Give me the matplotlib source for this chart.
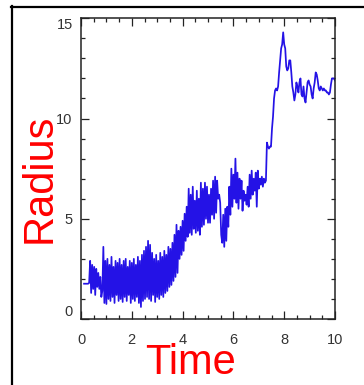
import numpy as np
import matplotlib
matplotlib.use("Agg")
import matplotlib.pyplot as plt
from matplotlib.lines import Line2D
from matplotlib.ticker import MultipleLocator, FixedLocator

# ---- data ----
# segment 1: initial flat part
seg1_t = (0.12, 0.32)
seg1_r = [1.76, 1.76, 1.76, 1.76, 1.76, 1.8]

# segment 2: noisy low band
seg2_t = (0.36, 3.56)
seg2_r = [2.9, 1.3, 2.7, 1.5, 2.6, 1.2, 2.5, 1.6, 2.3, 1.5,
          2.1, 1.1, 1.4, 3.6, 0.8, 2.9, 0.75, 3.0, 1.0, 2.7,
          0.9, 3.1, 1.1, 2.6, 0.8, 2.9, 1.2, 2.8, 0.9, 3.0,
          1.0, 2.7, 0.85, 2.9, 1.1, 3.0, 0.9, 2.6, 1.2, 2.9,
          0.8, 2.8, 1.0, 3.0, 0.9, 2.7, 1.1, 3.1, 0.8, 2.9,
          0.6, 3.2, 0.9, 3.4, 1.0, 3.6, 1.1, 3.9, 1.0, 3.7,
          0.9, 3.3, 1.2, 3.0, 0.85, 3.2, 1.1, 2.9, 1.0, 3.3,
          1.2, 3.1, 1.1, 3.4, 1.3, 3.2, 1.4, 3.6, 1.6, 3.5,
          1.7]

# segment 3: noisy rising band
seg3_t = (3.60, 7.28)
seg3_r = [3.8, 1.9, 4.2, 2.1, 4.7, 2.3, 4.4, 3.0, 4.6, 3.2,
          4.9, 3.4, 5.25, 3.9, 5.6, 4.1, 6.5, 4.3, 6.2, 4.2,
          6.6, 4.5, 5.9, 4.3, 6.4, 4.4, 6.0, 4.2, 6.8, 4.6,
          6.5, 4.7, 6.8, 5.0, 6.6, 4.8, 6.2, 4.8, 6.5, 5.2,
          6.9, 5.0, 7.1, 5.3, 6.9, 6.0, 6.2, 5.8, 4.2, 3.8,
          5.2, 3.6, 5.5, 3.9, 5.6, 4.6, 6.6, 5.2, 7.5, 5.6,
          7.2, 6.0, 8.0, 5.8, 7.3, 5.5, 7.0, 6.0, 6.9, 5.4,
          6.4, 5.9, 6.2, 5.7, 6.6, 5.6, 7.2, 6.0, 7.4, 6.2,
          7.0, 6.4, 7.3, 5.6, 7.4, 6.5, 7.0, 6.7, 7.1, 6.6,
          7.0, 6.8, 6.9]

# segment 4: jump and late plateau
seg4_t = (7.32, 10.0)
seg4_r = [8.8, 8.6, 8.5, 8.6, 8.6, 9.5, 10.1, 11.0, 11.4, 11.5,
          11.4, 11.6, 12.3, 12.9, 13.5, 13.7, 14.3, 13.7, 13.5, 12.6,
          12.4, 12.5, 12.9, 12.9, 12.3, 11.6, 11.3, 10.9, 11.2, 11.8,
          11.6, 11.3, 11.8, 12.0, 11.2, 11.1, 11.6, 11.0, 10.8, 11.3,
          11.8, 11.9, 11.7, 11.6, 11.2, 11.0, 11.5, 11.8, 12.3, 12.2,
          11.9, 11.5, 11.4, 11.6, 11.5, 11.4, 11.5, 11.4, 11.4, 11.3,
          11.3, 11.2, 11.3, 11.7, 12.0, 12.0, 12.0, 11.9]

segments = [(seg1_t, seg1_r), (seg2_t, seg2_r), (seg3_t, seg3_r), (seg4_t, seg4_r)]
time = np.concatenate([np.linspace(a, b, len(r)) for (a, b), r in segments])
radius = np.concatenate([np.asarray(r, float) for _, r in segments])

xticks = [0, 2, 4, 6, 8, 10]
yticks = [0, 5, 10, 15]

# ---- figure ----
W, H = 364, 385
fig = plt.figure(figsize=(W / 100, H / 100), dpi=100)
fig.patch.set_facecolor("white")

ax = fig.add_axes([81 / W, 1 - 319 / H, 254 / W, (319 - 18.3) / H])
ax.plot(time, radius, color="#2412e6", lw=1.25)
ax.set_xlim(0, 10)
ax.set_ylim(0, 15)

ax.xaxis.set_major_locator(FixedLocator(xticks))
ax.yaxis.set_major_locator(FixedLocator(yticks))
ax.xaxis.set_minor_locator(MultipleLocator(0.5))
ax.yaxis.set_minor_locator(MultipleLocator(1))
ax.set_xticklabels([str(v) for v in xticks])
ax.set_yticklabels([str(v) for v in yticks])

for s in ax.spines.values():
    s.set_color("#222222")
    s.set_linewidth(1.1)

ax.tick_params(which="both", direction="in", top=True, right=True,
               color="#222222", width=0.9)
ax.tick_params(which="major", length=6)
ax.tick_params(which="minor", length=3)
ax.tick_params(axis="x", which="major", pad=10, labelsize=10.5, labelcolor="#333333")
ax.tick_params(axis="y", which="major", pad=6, labelsize=10.5, labelcolor="#333333")
for lab in ax.get_xticklabels() + ax.get_yticklabels():
    lab.set_fontfamily("Liberation Sans")

yt = ax.yaxis.get_major_ticks()
yt[0].label1.set_va("bottom")
yt[-1].label1.set_va("top")

# axis titles
fig.text(190 / W, 1 - 374 / H, "Time", color="red", fontsize=30,
         family="Liberation Sans", ha="center", va="baseline")
fig.text(51 / W, 1 - 178.5 / H, "Radius", color="red", fontsize=30,
         family="Liberation Sans", ha="center", va="baseline",
         rotation=90, rotation_mode="anchor")

# outer frame (left and top edges visible)
fig.add_artist(Line2D([11.5 / W, 11.5 / W], [0, 1 - 6 / H], color="black",
                      lw=1.6, transform=fig.transFigure))
fig.add_artist(Line2D([11 / W, 1], [1 - 6.5 / H, 1 - 6.5 / H], color="black",
                      lw=1.6, transform=fig.transFigure))

fig.savefig("out.png", dpi=100)
